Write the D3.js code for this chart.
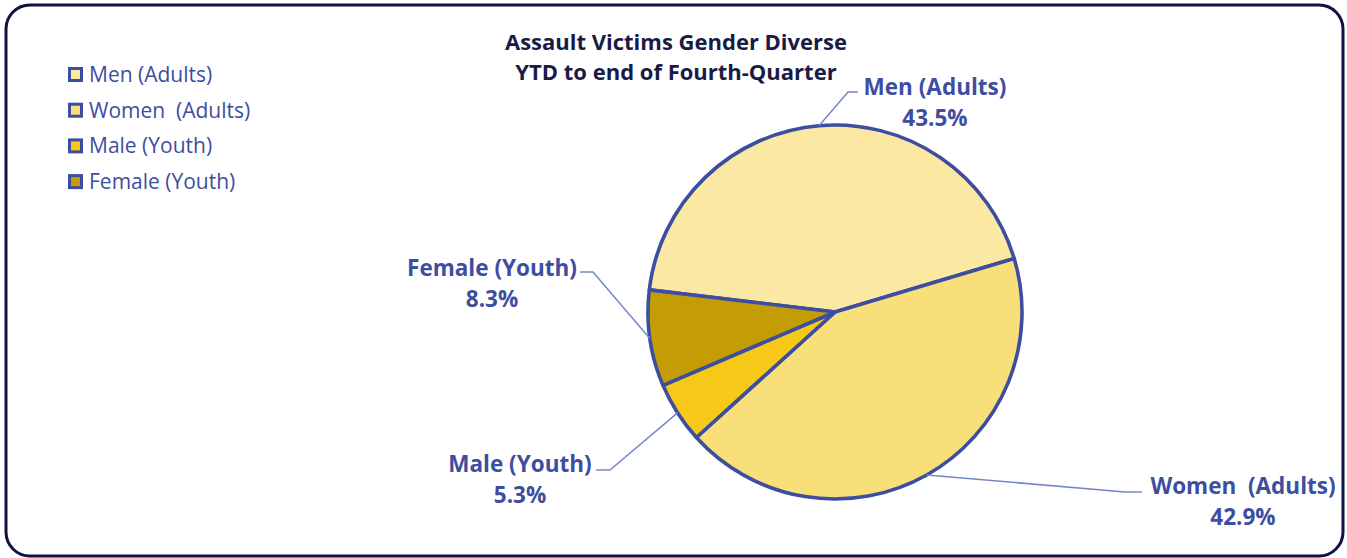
<!DOCTYPE html>
<html>
<head>
<meta charset="utf-8">
<script src="https://cdn.jsdelivr.net/npm/d3@7"></script>
<style>
  html, body { margin: 0; padding: 0; background: #ffffff; }
  svg { display: block; }
  text { white-space: pre; }
</style>
</head>
<body>
<svg id="chart" width="1347" height="558"></svg>
<script>
// ---- data ----
const categories = ["Men (Adults)", "Women  (Adults)", "Male (Youth)", "Female (Youth)"];
const shares = [43.5, 42.9, 5.3, 8.3];
const sliceColors = ["#FBE9A3", "#F9DF79", "#F6C918", "#C49D05"];
const titleLines = ["Assault Victims Gender Diverse", "YTD to end of Fourth-Quarter"];

// ---- layout (kept separate from data) ----
const W = 1347, H = 558;
const cx = 835, cy = 312, R = 187;
const startAngle = -83.2 * Math.PI / 180;
const blue = "#3D4EA0";
const labelFont = "'Open Sans', 'DejaVu Sans', sans-serif";
// label text anchor (center x, first baseline y) and leader elbow/end points
const labelLayout = [
  { x: 935,  y: 95,  elbow: [848, 92],  end: [858, 92] },
  { x: 1243, y: 494, elbow: [1125, 492], end: [1142, 492] },
  { x: 520,  y: 472, elbow: [610, 470], end: [596, 470] },
  { x: 492,  y: 276, elbow: [593, 272], end: [580, 272] }
];

const svg = d3.select("#chart");

// outer rounded border
svg.append("rect")
  .attr("x", 6).attr("y", 5)
  .attr("width", 1337).attr("height", 551)
  .attr("rx", 24).attr("ry", 24)
  .attr("fill", "#ffffff")
  .attr("stroke", "#0F1341")
  .attr("stroke-width", 3);

// title
svg.append("g").selectAll("text")
  .data(titleLines)
  .join("text")
  .attr("x", 676)
  .attr("y", (d, i) => 50 + i * 30)
  .attr("text-anchor", "middle")
  .attr("font-family", labelFont)
  .attr("font-weight", "bold")
  .attr("font-size", 22)
  .attr("fill", "#1A1B45")
  .text(d => d);

// pie
const data = categories.map((c, i) => ({ name: c, value: shares[i], color: sliceColors[i] }));
const pie = d3.pie()
  .value(d => d.value)
  .sort(null)
  .startAngle(startAngle)
  .endAngle(startAngle + 2 * Math.PI);
const arcs = pie(data);
const arc = d3.arc().innerRadius(0).outerRadius(R);

const g = svg.append("g").attr("transform", `translate(${cx},${cy})`);

g.selectAll("path.slice")
  .data(arcs)
  .join("path")
  .attr("class", "slice")
  .attr("d", arc)
  .attr("fill", d => d.data.color)
  .attr("stroke", blue)
  .attr("stroke-width", 3.6)
  .attr("stroke-linejoin", "round");

// leader lines
const line = d3.line();
svg.append("g").selectAll("path.leader")
  .data(arcs)
  .join("path")
  .attr("class", "leader")
  .attr("d", (d, i) => {
    const mid = (d.startAngle + d.endAngle) / 2;
    const p0 = [cx + R * Math.sin(mid), cy - R * Math.cos(mid)];
    const L = labelLayout[i];
    return line([p0, L.elbow, L.end]);
  })
  .attr("fill", "none")
  .attr("stroke", "#7786CC")
  .attr("stroke-width", 1.5);

// data labels
const fmt = d3.format(".1f");
const labels = svg.append("g").selectAll("text.lbl")
  .data(arcs)
  .join("text")
  .attr("class", "lbl")
  .attr("text-anchor", "middle")
  .attr("font-family", labelFont)
  .attr("font-weight", "bold")
  .attr("font-size", 22.5)
  .attr("fill", blue);
labels.append("tspan")
  .attr("x", (d, i) => labelLayout[i].x)
  .attr("y", (d, i) => labelLayout[i].y)
  .text(d => d.data.name);
labels.append("tspan")
  .attr("x", (d, i) => labelLayout[i].x)
  .attr("y", (d, i) => labelLayout[i].y + 31)
  .text(d => fmt(d.data.value) + "%");

// legend
const legend = svg.append("g").attr("transform", "translate(68,75)");
const items = legend.selectAll("g")
  .data(data)
  .join("g")
  .attr("transform", (d, i) => `translate(0,${i * 35.7})`);
items.append("rect")
  .attr("x", 1.5).attr("y", -6.5)
  .attr("width", 12).attr("height", 12)
  .attr("fill", d => d.color)
  .attr("stroke", blue)
  .attr("stroke-width", 3);
items.append("text")
  .attr("x", 21)
  .attr("y", 7)
  .attr("font-family", labelFont)
  .attr("font-size", 21)
  .attr("fill", blue)
  .text(d => d.name);
</script>
</body>
</html>
